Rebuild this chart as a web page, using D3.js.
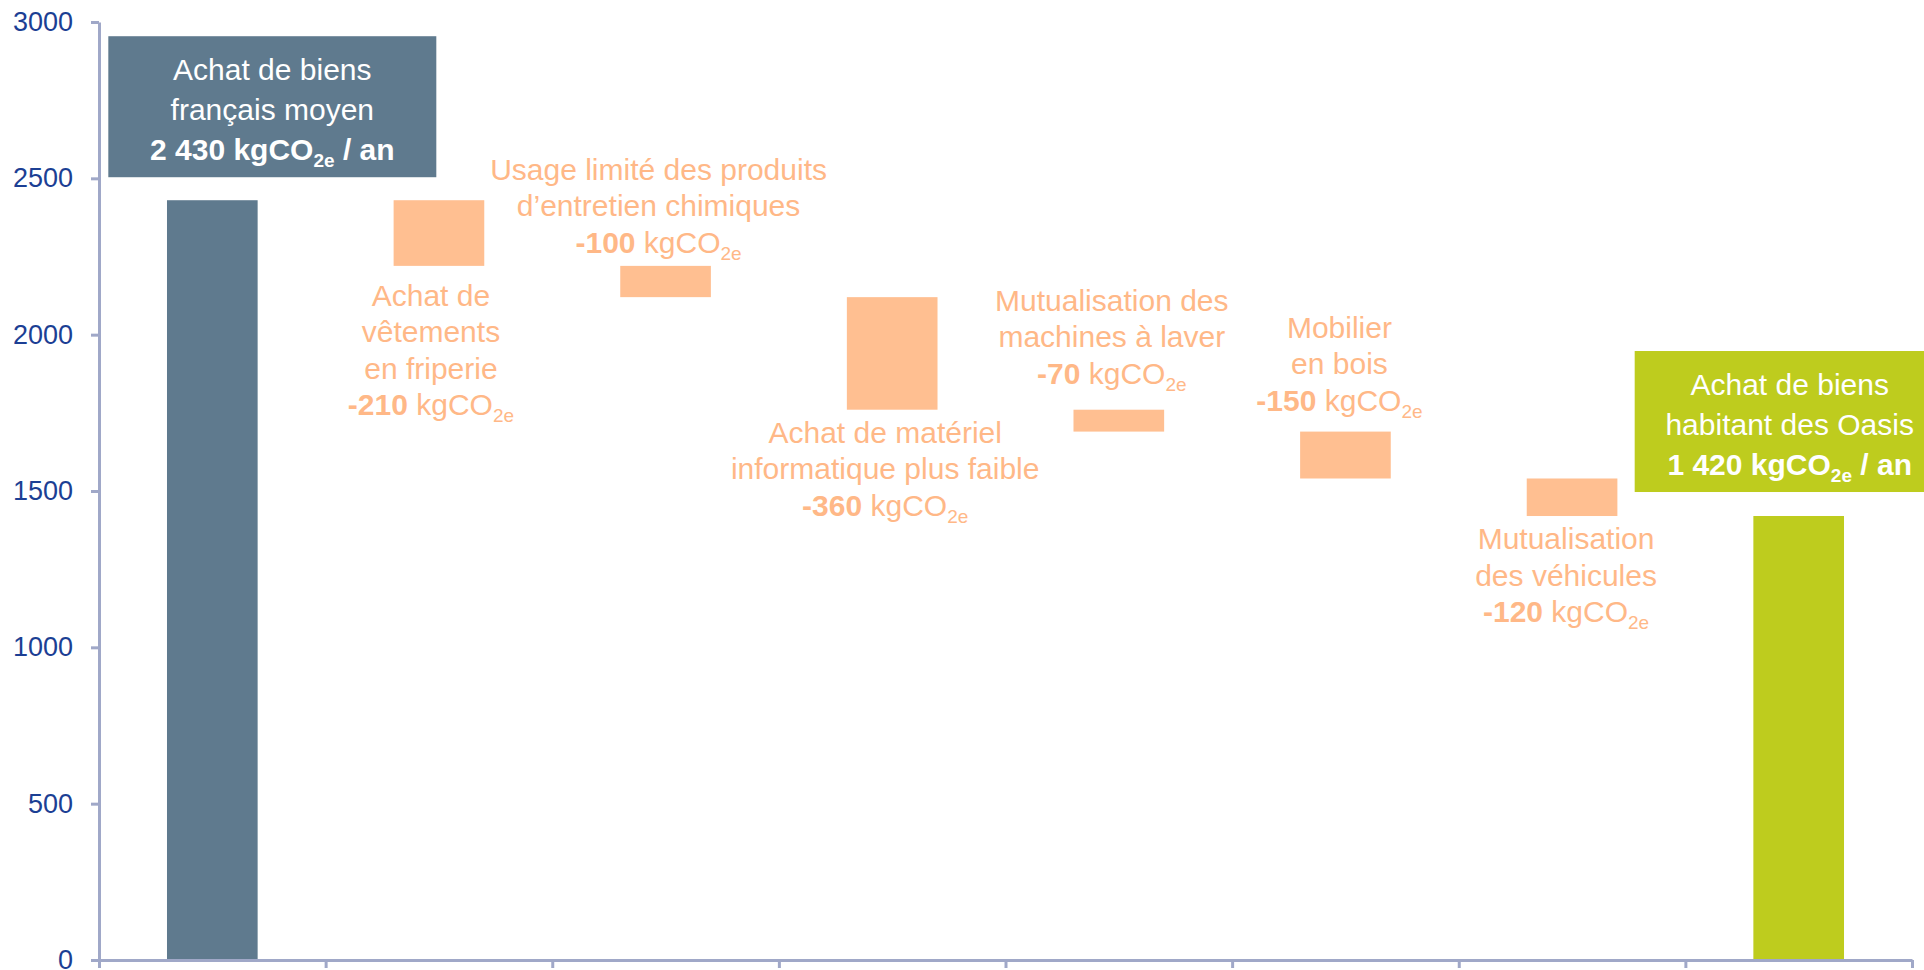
<!DOCTYPE html>
<html lang="fr">
<head>
<meta charset="utf-8">
<script src="https://cdn.jsdelivr.net/npm/d3@7"></script>
<style>
    html, body { margin: 0; padding: 0; background: #fff; overflow: hidden; }
    svg { display: block; font-family: "Liberation Sans", Arial, sans-serif; }
</style>
</head>
<body>
<svg class="chart"></svg>
<script>
'use strict';

var CHART_WIDTH = 1924;
var CHART_HEIGHT = 970;
var PLOT = { left: 99, right: 1912, top: 22, bottom: 960 };

// chart data
var categories = [
    "Achat de biens français moyen",
    "Achat de vêtements en friperie",
    "Usage limité des produits d’entretien chimiques",
    "Achat de matériel informatique plus faible",
    "Mutualisation des machines à laver",
    "Mobilier en bois",
    "Mutualisation des véhicules",
    "Achat de biens habitant des Oasis"
];
var values = [2430, -210, -100, -360, -70, -150, -120, 1420];
var barKinds = ["total", "delta", "delta", "delta", "delta", "delta", "delta", "total"];
var labelLines = [
    ["Achat de biens", "français moyen"],
    ["Achat de", "vêtements", "en friperie"],
    ["Usage limité des produits", "d’entretien chimiques"],
    ["Achat de matériel", "informatique plus faible"],
    ["Mutualisation des", "machines à laver"],
    ["Mobilier", "en bois"],
    ["Mutualisation", "des véhicules"],
    ["Achat de biens", "habitant des Oasis"]
];
var yTicks = [0, 500, 1000, 1500, 2000, 2500, 3000];

var COLORS = {
    start: "#5f7a8e",
    end: "#becc1e",
    delta: "#ffbf91",
    deltaText: "#ffb887",
    axis: "#a0a8c8",
    tickText: "#1c3f94"
};

// where each label sits relative to its bar
var LABEL_LAYOUT = [
    { side: "box", dx: 60, gap: 23, width: 328 },
    { side: "below", dx: -8, gap: 40 },
    { side: "above", dx: -7, gap: 13 },
    { side: "below", dx: -7, gap: 33 },
    { side: "above", dx: -7, gap: 26 },
    { side: "above", dx: -6, gap: 21 },
    { side: "below", dx: -6, gap: 33 },
    { side: "box", dx: -9, gap: 24, width: 310 }
];

var frFormat = d3.formatLocale({ decimal: ",", thousands: "\u00a0", grouping: [3], currency: ["", ""], minus: "-" }).format(",d");

var steps = buildSteps();

var x = d3.scaleBand()
    .domain(categories)
    .range([PLOT.left, PLOT.right])
    .paddingInner(0.6)
    .paddingOuter(0.3);

var y = d3.scaleLinear()
    .domain([0, 3000])
    .range([PLOT.bottom, PLOT.top]);

var chart = d3.select(".chart")
    .attr("width", CHART_WIDTH)
    .attr("height", CHART_HEIGHT);

renderBars();
renderLabels();
renderAxes();

/**
 * Turn the values into waterfall steps (start / end of each bar)
 */
function buildSteps() {
    var running = 0;
    return values.map(function (v, i) {
        var s;
        if (barKinds[i] === "total") {
            s = { start: 0, end: v };
            running = v;
        } else {
            s = { start: running, end: running + v };
            running += v;
        }
        s.category = categories[i];
        s.value = v;
        s.index = i;
        s.kind = barKinds[i];
        return s;
    });
}

function barColor(d) {
    if (d.kind === "delta") return COLORS.delta;
    return d.index === 0 ? COLORS.start : COLORS.end;
}

function renderBars() {
    chart.append("g")
        .selectAll("rect")
        .data(steps)
        .enter()
        .append("rect")
        .attr("x", function (d) { return x(d.category); })
        .attr("width", x.bandwidth())
        .attr("y", function (d) { return y(Math.max(d.start, d.end)); })
        .attr("height", function (d) { return Math.abs(y(d.start) - y(d.end)); })
        .attr("fill", barColor);
}

/**
 * Append the "value kgCO2e" line with a subscript
 */
function appendValueLine(text, d, isBox) {
    text.append("tspan")
        .attr("font-weight", "bold")
        .text(frFormat(d.value));
    text.append("tspan")
        .attr("font-weight", isBox ? "bold" : "normal")
        .text(" kgCO");
    text.append("tspan")
        .attr("font-weight", isBox ? "bold" : "normal")
        .attr("font-size", 19)
        .attr("dy", 7)
        .text("2e");
    if (isBox) {
        text.append("tspan")
            .attr("font-weight", "bold")
            .attr("dy", -7)
            .text(" / an");
    }
}

function renderLabels() {
    var g = chart.append("g").attr("font-size", 30);
    var lineHeight = 36.5;

    steps.forEach(function (d, i) {
        var layout = LABEL_LAYOUT[i];
        var lines = labelLines[i];
        var cx = x(d.category) + x.bandwidth() / 2 + layout.dx;
        var top = y(Math.max(d.start, d.end));
        var bottom = y(Math.min(d.start, d.end));

        if (layout.side === "box") {
            var boxH = 141;
            var boxTop = top - layout.gap - boxH;
            g.append("rect")
                .attr("x", cx - layout.width / 2)
                .attr("y", boxTop)
                .attr("width", layout.width)
                .attr("height", boxH)
                .attr("fill", barColor(d));
            lines.forEach(function (line, k) {
                g.append("text")
                    .attr("x", cx)
                    .attr("y", boxTop + 44 + k * 40)
                    .attr("text-anchor", "middle")
                    .attr("fill", "#fff")
                    .text(line);
            });
            var vt = g.append("text")
                .attr("x", cx)
                .attr("y", boxTop + 44 + lines.length * 40)
                .attr("text-anchor", "middle")
                .attr("fill", "#fff");
            appendValueLine(vt, d, true);
            return;
        }

        var n = lines.length + 1;
        var firstBaseline = layout.side === "above"
            ? top - layout.gap - (n - 1) * lineHeight
            : bottom + layout.gap;

        lines.forEach(function (line, k) {
            g.append("text")
                .attr("x", cx)
                .attr("y", firstBaseline + k * lineHeight)
                .attr("text-anchor", "middle")
                .attr("fill", COLORS.deltaText)
                .text(line);
        });
        var t = g.append("text")
            .attr("x", cx)
            .attr("y", firstBaseline + lines.length * lineHeight)
            .attr("text-anchor", "middle")
            .attr("fill", COLORS.deltaText);
        appendValueLine(t, d, false);
    });
}

function renderAxes() {
    var yAxis = d3.axisLeft(y)
        .tickValues(yTicks)
        .tickFormat(d3.format("d"))
        .tickSize(8)
        .tickSizeOuter(0)
        .tickPadding(18);

    var yg = chart.append("g")
        .attr("class", "y axis")
        .attr("transform", "translate(" + PLOT.left + ",0)")
        .call(yAxis);

    // tick boundaries between categories
    var boundary = d3.scaleLinear()
        .domain([0, categories.length])
        .range([PLOT.left, PLOT.right]);
    var xAxis = d3.axisBottom(boundary)
        .tickValues(d3.range(categories.length + 1))
        .tickFormat("")
        .tickSize(8)
        .tickSizeOuter(0);

    var xg = chart.append("g")
        .attr("class", "x axis")
        .attr("transform", "translate(0," + PLOT.bottom + ")")
        .call(xAxis);

    [yg, xg].forEach(function (ag) {
        ag.select(".domain").attr("stroke", COLORS.axis).attr("stroke-width", 3);
        ag.selectAll(".tick line").attr("stroke", COLORS.axis).attr("stroke-width", 3);
    });
    yg.attr("font-size", null).attr("font-family", null);
    yg.selectAll(".tick text")
        .attr("fill", COLORS.tickText)
        .style("font-size", "27px")
        .style("font-family", "'Liberation Sans', Arial, sans-serif");
}
</script>
</body>
</html>
